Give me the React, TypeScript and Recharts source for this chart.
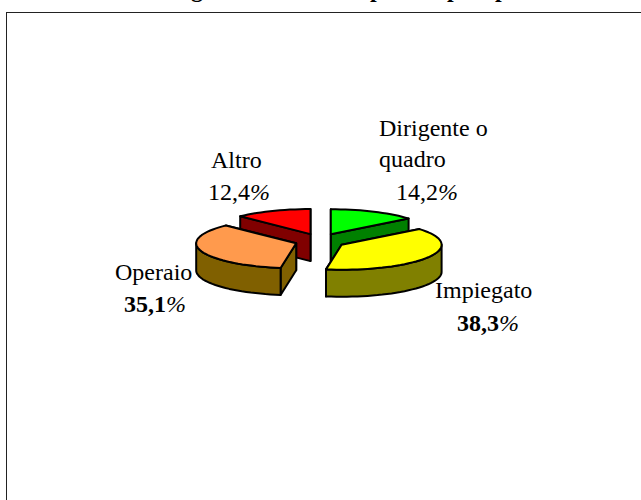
import { PieChart, Pie, Cell } from 'recharts';

// Altro comes first so that Operaio is painted over it
const categories = ['Altro', 'Dirigente o quadro', 'Impiegato', 'Operaio'];
const shares = [12.4, 14.2, 38.3, 35.1];
const topColors = ['#ff0000', '#00ff00', '#ffff00', '#ff9a4d'];
const sideColors = ['#800000', '#008000', '#808000', '#806000'];

// the title is cut off by the page edge, only these descenders are readable
const titleLetters = ['g', 'p', 'p', 'p'];
const titleLetterX = [191, 370, 447, 495];

const data = categories.map((name, i) => ({ name, value: shares[i] }));

const START = 90 + (shares[0] / 100) * 360;
const TILT = 0.25;
const DEPTH = 27;
const EXPLODE_X = 25;
const EXPLODE_Y = 7.5;
const RAD = Math.PI / 180;
const serif = '"Liberation Serif", "Times New Roman", serif';

// point on the flattened ellipse, angles as recharts gives them
function pt(cx: number, cy: number, r: number, a: number) {
  return [cx + r * Math.cos(a * RAD), cy - r * TILT * Math.sin(a * RAD)];
}

function arcPts(cx: number, cy: number, r: number, a0: number, a1: number) {
  const n = Math.max(2, Math.ceil(Math.abs(a1 - a0) / 3));
  const out: number[][] = [];
  for (let i = 0; i <= n; i++) out.push(pt(cx, cy, r, a0 + ((a1 - a0) * i) / n));
  return out;
}

function toPath(points: number[][]) {
  return 'M' + points.map((p) => p[0].toFixed(1) + ' ' + p[1].toFixed(1)).join('L') + 'Z';
}

function Slice3D(props: any) {
  const { cx, cy, outerRadius, startAngle, endAngle, midAngle, index } = props;
  const c = [
    cx + EXPLODE_X * Math.cos(midAngle * RAD),
    cy - EXPLODE_Y * Math.sin(midAngle * RAD),
  ];
  const r = outerRadius;
  const stroke = { stroke: '#000', strokeWidth: 2, strokeLinejoin: 'round' as const };
  const down = (p: number[]) => [p[0], p[1] + DEPTH];
  const lo = Math.min(startAngle, endAngle);
  const hi = Math.max(startAngle, endAngle);
  const top = [c, ...arcPts(c[0], c[1], r, lo, hi)];

  // cut faces first, then the part of the rim that faces the viewer
  const walls: number[][][] = [];
  [pt(c[0], c[1], r, lo), pt(c[0], c[1], r, hi)].forEach((e) => {
    walls.push([c, e, down(e), down(c)]);
  });
  const a = Math.max(lo, -180);
  const b = Math.min(hi, 0);
  if (a < b) {
    const arc = arcPts(c[0], c[1], r, a, b);
    walls.push([...arc, ...arc.map(down).reverse()]);
  }

  return (
    <g>
      {walls.map((w, i) => (
        <path key={i} d={toPath(w)} fill={sideColors[index]} {...stroke} />
      ))}
      <path d={toPath(top)} fill={topColors[index]} {...stroke} />
    </g>
  );
}

function Labels() {
  return (
    <g fontFamily={serif} fontSize={24} fill="#000">
      {titleLetters.map((l, i) => (
        <text key={i} x={titleLetterX[i]} y={-3} fontWeight="bold">{l}</text>
      ))}
      <text x={379} y={136}>Dirigente o</text>
      <text x={379} y={167}>quadro</text>
      <text x={396} y={200}>14,2<tspan fontStyle="italic">%</tspan></text>
      <text x={435} y={298}>Impiegato</text>
      <text x={457} y={331}><tspan fontWeight="bold">38,3</tspan><tspan fontStyle="italic">%</tspan></text>
      <text x={115} y={280}>Operaio</text>
      <text x={124} y={312}><tspan fontWeight="bold">35,1</tspan><tspan fontStyle="italic">%</tspan></text>
      <text x={211} y={168}>Altro</text>
      <text x={208} y={200}>12,4<tspan fontStyle="italic">%</tspan></text>
    </g>
  );
}

export default function App() {
  return (
    <div style={{ position: 'absolute', left: 0, top: 0, width: 641, height: 500, overflow: 'hidden', background: '#fff' }}>
      <div style={{ position: 'absolute', left: 6, top: 12, width: 640, height: 500, border: '1px solid #222' }} />
      <PieChart
        width={641}
        height={500}
        margin={{ top: 0, right: 0, bottom: 0, left: 0 }}
        style={{ position: 'absolute', left: 0, top: 0, overflow: 'hidden' }}
      >
        <Pie
          data={data}
          dataKey="value"
          cx={320}
          cy={241}
          outerRadius={100}
          startAngle={START}
          endAngle={START - 360}
          shape={Slice3D}
          label={false}
          labelLine={false}
          isAnimationActive={false}
        >
          {data.map((d) => (
            <Cell key={d.name} />
          ))}
        </Pie>
        <Labels />
      </PieChart>
    </div>
  );
}
